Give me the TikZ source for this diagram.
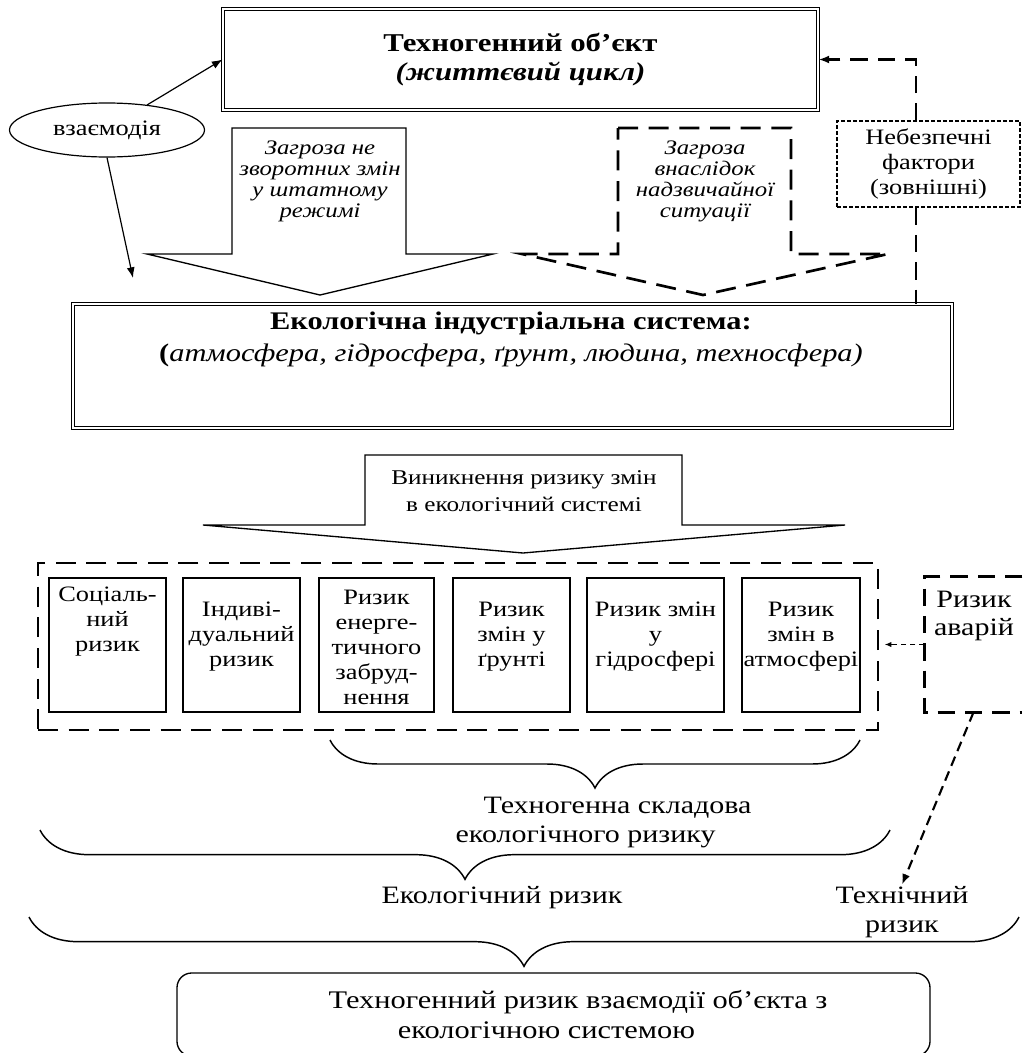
\documentclass[tikz,border=0pt]{standalone}
\usepackage{fontspec}
\setmainfont[FakeStretch=1.2]{Liberation Serif}
\usetikzlibrary{arrows.meta,decorations.pathreplacing,shapes.geometric}
\tikzset{
  pxbox/.style 2 args={minimum width={#1*0.75pt}, minimum height={#2*0.75pt}, inner sep=0pt},
  fTitle/.style={font=\fontsize{19.25pt}{21.75pt}\selectfont\bfseries},
  fEll/.style={font=\fontsize{16.5pt}{19pt}\selectfont},
  fThr/.style={font=\fontsize{15.5pt}{15.75pt}\selectfont\itshape},
  fDanger/.style={font=\fontsize{16.5pt}{18.75pt}\selectfont},
  fEco/.style={font=\fontsize{19pt}{24pt}\selectfont},
  fArr/.style={font=\fontsize{15.75pt}{20.25pt}\selectfont},
  fInner/.style={font=\fontsize{16.5pt}{18.75pt}\selectfont},
  fAvar/.style={font=\fontsize{18.75pt}{21pt}\selectfont},
  fLow/.style={font=\fontsize{18.75pt}{21.75pt}\selectfont},
  fBot/.style={font=\fontsize{19pt}{22.5pt}\selectfont},
  dbl/.style={draw, line width=0.7pt, double, double distance=1.4pt},
  solidbox/.style={draw, line width=1pt},
  bigdash/.style={line width=1.9pt, dash pattern=on 13pt off 7.5pt},
  contdash/.style={line width=2pt, dash pattern=on 15pt off 8pt},
  finedash/.style={line width=0.8pt, dash pattern=on 3pt off 1.5pt},
  smalldash/.style={line width=0.9pt, dash pattern=on 4pt off 3pt},
  meddash/.style={line width=1.6pt, dash pattern=on 7.5pt off 4.5pt},
  arr/.style={line width=0.9pt, -{Latex[length=8pt,width=6pt]}},
  brc/.style={line width=1.1pt, decorate, decoration={brace, mirror, amplitude=#1}},
}
\begin{document}
\begin{tikzpicture}[x=0.75pt,y=-0.75pt, every node/.style={align=center, inner sep=1pt}]
\useasboundingbox (0,0) rectangle (1022,1053);

% top object
\node[dbl, pxbox={595}{101}, fTitle] (top) at (520.5,59.5) {Техногенний об'єкт\\\itshape (життєвий цикл)};

% interaction ellipse
\node[ellipse, draw, line width=0.9pt, pxbox={195}{54}, fEll] (ell) at (107,130) {взаємодія};
\coordinate (c1) at (133,278);
\draw[arr] (ell.32) -- (top.west);
\draw[arr] (ell.south) -- (c1);

% block arrow 1 (solid)
\draw[line width=1pt] (232,128) -- (406,128) -- (406,254) -- (493,254) -- (320,295) -- (147,254) -- (232,254) -- cycle;
\node[fThr] (thr1) at (320,181) {Загроза не\\зворотних змін\\у штатному\\режимі};

% block arrow 2 (dashed)
\draw[contdash] (618,128) -- (791,128) -- (791,254) -- (888,254) -- (703,295) -- (522,254) -- (618,254) -- cycle;
\node[fThr] (thr2) at (705,181) {Загроза\\внаслідок\\надзвичайної\\ситуації};

% dangerous factors
\node[draw, finedash, pxbox={183}{86}, fDanger] (danger) at (928.5,164) {Небезпечні\\фактори\\(зовнішні)};

% ecological system
\node[dbl, pxbox={879}{124}] (eco) at (512.5,366) {};
\node[fEco] (ecotxt) at (511,339) {\bfseries Екологічна індустріальна система:\\\textbf{(}\textit{атмосфера, гідросфера, ґрунт, людина, техносфера)}};

% connectors from dangerous factors
\coordinate (dt) at ([xshift=-9.4pt]danger.north);
\coordinate (ds) at ([xshift=-9.4pt]danger.south);
\draw[bigdash, -{Latex[length=8pt,width=6pt]}] (dt) |- (top.east);
\draw[bigdash] (ds) -- (ds |- eco.north);

% block arrow 3
\draw[line width=1pt] (365,455) -- (682,455) -- (682,525) -- (845,525) -- (523,553) -- (203,525) -- (365,525) -- cycle;
\node[fArr] (arr3) at (524,491) {Виникнення ризику змін\\в екологічний системі};

% container of risks
\node[draw, contdash, pxbox={840}{167}] (cont) at (458,646.5) {};
\node[solidbox, pxbox={117}{134}] (b1) at (107.5,645) {};
\node[solidbox, pxbox={117}{134}] (b2) at (241.5,645) {};
\node[solidbox, pxbox={115}{134}] (b3) at (376.5,645) {};
\node[solidbox, pxbox={117}{134}] (b4) at (511.5,645) {};
\node[solidbox, pxbox={137}{134}] (b5) at (655.5,645) {};
\node[solidbox, pxbox={118}{134}] (b6) at (801,645) {};
\node[fInner] (t1) at (107.5,622) {Соціаль-\\ний\\ризик};
\node[fInner] (t2) at (241.5,637) {Індиві-\\дуальний\\ризик};
\node[fInner] (t3) at (376.5,647) {Ризик\\енерге-\\тичного\\забруд-\\нення};
\node[fInner] (t4) at (511.5,637) {Ризик\\змін у\\ґрунті};
\node[fInner] (t5) at (655.5,637) {Ризик змін\\у\\гідросфері};
\node[fInner] (t6) at (801,637) {Ризик\\змін в\\атмосфері};

% accident risk
\node[pxbox={97}{135}, fAvar] (avar) at (973.5,644.5) {};
\node[fAvar] (avartxt) at (974,616) {Ризик\\аварій};
\draw[bigdash] (avar.north east) -- (avar.north west) -- (avar.south west) -- (avar.south east);
\draw[smalldash, -{Latex[length=5pt,width=4pt]}] (avar.west) -- ([xshift=4pt]avar.west -| cont.east);

% braces
\coordinate (br1a) at (330,740); \coordinate (br1b) at (860,740);
\coordinate (br2a) at (40,830);  \coordinate (br2b) at (890,830);
\coordinate (br3a) at (29,917);  \coordinate (br3b) at (1019,917);
\draw[brc=36pt] (br1a) -- (br1b);
\draw[brc=37pt] (br2a) -- (br2b);
\draw[brc=37pt] (br3a) -- (br3b);

\node[fLow, anchor=west, align=left] (tcomp) at (454,822.5) {\hspace*{21pt}Техногенна складова\\екологічного ризику};
\node[fLow] (ecorisk) at (502,898) {Екологічний ризик};
\node[fLow] (tech) at (902,912) {Технічний\\ризик};
\draw[meddash, -{Latex[length=8pt,width=6pt]}] (avar.south) -- (tech.north);

% result
\node[draw, line width=1pt, rounded corners=11pt, pxbox={753}{83}] (res) at (553.5,1014.5) {};
\node[fBot, anchor=west, align=left] (restxt) at (327,1015) {Техногенний ризик взаємодії об’єкта з\\\hspace*{52pt}екологічною системою};
\end{tikzpicture}
\end{document}
